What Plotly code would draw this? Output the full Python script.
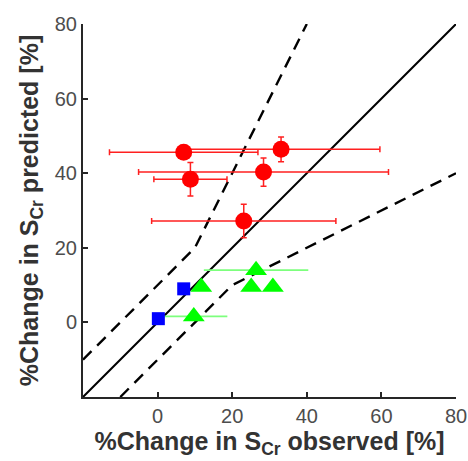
import plotly.graph_objects as go

# Red circles: observed vs predicted change with error bars
red_x = [7.0, 33.1, 8.8, 28.4, 23.1]
red_y = [45.6, 46.4, 38.4, 40.3, 27.2]
red_xerr = [19.9, 26.5, 9.8, 33.5, 24.7]
red_yerr = [0.0, 3.3, 4.5, 3.8, 4.5]

# Green triangles
green_x = [26.4, 11.7, 25.1, 30.9, 9.7]
green_y = [14.0, 9.5, 9.5, 9.5, 1.6]
green_xerr = [14.0, 0.0, 0.0, 0.0, 9.0]

# Blue squares
blue_x = [7.0, 0.2]
blue_y = [9.0, 1.0]

# Identity line and upper/lower bounds
ident_x = [-20, 80]
ident_y = [-20, 80]
upper_x = [-20, 10, 40]
upper_y = [-10, 20, 80]
lower_x = [-10, 20, 80]
lower_y = [-20, 10, 40]

xticks = [0, 20, 40, 60, 80]
yticks = [0, 20, 40, 60, 80]

FONT = "Liberation Sans, Arial, sans-serif"

fig = go.Figure()

fig.add_trace(go.Scatter(x=upper_x, y=upper_y, mode="lines",
                         line=dict(color="black", width=2.4, dash="12px,8px")))
fig.add_trace(go.Scatter(x=lower_x, y=lower_y, mode="lines",
                         line=dict(color="black", width=2.4, dash="12px,8px")))
fig.add_trace(go.Scatter(x=ident_x, y=ident_y, mode="lines",
                         line=dict(color="black", width=2)))

fig.add_trace(go.Scatter(
    x=green_x, y=green_y, mode="markers",
    marker=dict(symbol="triangle-up", size=19, color="#00ff00"),
    error_x=dict(type="data", array=green_xerr, color="#7dff7d",
                 thickness=1.8, width=0),
))
fig.add_trace(go.Scatter(
    x=blue_x, y=blue_y, mode="markers",
    marker=dict(symbol="square", size=13, color="#0000ff"),
))
fig.add_trace(go.Scatter(
    x=red_x, y=red_y, mode="markers",
    marker=dict(symbol="circle", size=17, color="#ff0000"),
    error_x=dict(type="data", array=red_xerr, color="#ff2020",
                 thickness=1.5, width=3),
    error_y=dict(type="data", array=red_yerr, color="#ff2020",
                 thickness=1.5, width=3),
))

axis_common = dict(
    showgrid=False, zeroline=False, showline=True, automargin=False,
    linecolor="#262626", linewidth=2, mirror=False,
    ticks="inside", ticklen=5, tickwidth=1.5, tickcolor="#262626",
    tickfont=dict(family=FONT, size=20, color="#4d4d4d"),
)

fig.update_layout(
    width=468, height=461,
    margin=dict(l=83, r=12, t=24, b=64),
    paper_bgcolor="white", plot_bgcolor="white",
    showlegend=False,
    xaxis=dict(range=[-20, 80], tickvals=xticks, **axis_common,
               title=dict(text="<b>%Change in S<sub>Cr</sub> observed [%]</b>",
                          font=dict(family=FONT, size=25, color="#333333"),
                          standoff=3)),
    yaxis=dict(range=[-20, 80], tickvals=yticks, **axis_common,
               title=dict(text="<b>%Change in S<sub>Cr</sub> predicted [%]</b>",
                          font=dict(family=FONT, size=25, color="#333333"),
                          standoff=9)),
)

fig.write_html("out.html")
